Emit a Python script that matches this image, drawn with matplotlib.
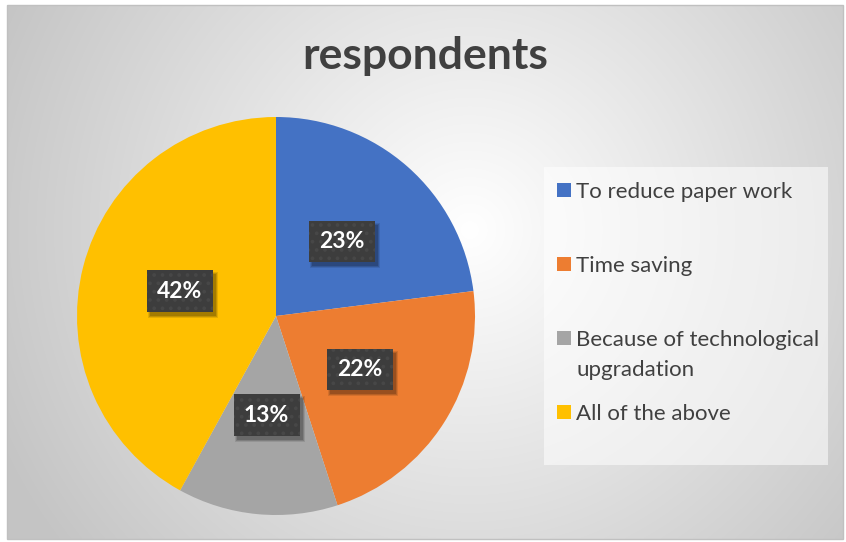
import numpy as np
import matplotlib
matplotlib.use("Agg")
import matplotlib.pyplot as plt
from matplotlib.patches import Rectangle

categories = ["To reduce paper work", "Time saving",
              "Because of technological\nupgradation", "All of the above"]
values = [23, 22, 13, 42]
colors = ["#4472C4", "#ED7D31", "#A5A5A5", "#FFC000"]
title = "respondents"

plt.rcParams['font.family'] = ['Lato', 'DejaVu Sans']
plt.rcParams['hatch.linewidth'] = 1.5

W, H = 846, 542
fig = plt.figure(figsize=(W / 100, H / 100), dpi=100)
fig.patch.set_facecolor('white')

# background with radial gradient
bg = fig.add_axes([0, 0, 1, 1])
bg.set_xlim(0, W)
bg.set_ylim(H, 0)
bg.axis('off')
x0, x1, y0, y1 = 7, 843, 5, 539
xx, yy = np.meshgrid(np.linspace(x0, x1, 420), np.linspace(y0, y1, 270))
cx, cy = 470, 230
d = np.clip(np.sqrt((xx - cx) ** 2 + (yy - cy) ** 2) / 520, 0, 1)
v = 1 - d * (1 - 0.77)
bg.imshow(np.dstack([v, v, v]), extent=(x0, x1, y1, y0), aspect='auto', zorder=0,
          interpolation='bilinear')
bg.add_patch(Rectangle((x0, y0), x1 - x0, y1 - y0, fill=False, ec='#c0c0c0', lw=1, zorder=1))

# title
bg.text(425.5, 69, title, ha='center', va='baseline', fontsize=32,
        fontweight='bold', color='#404040', zorder=3)

# legend box
bg.add_patch(Rectangle((544, 167), 284, 298, fc='white', alpha=0.55, ec='none', zorder=2))
ys = [190, 264, 338, 412]
for lab, col, yc in zip(categories, colors, ys):
    bg.add_patch(Rectangle((557, yc - 7), 14, 14, fc=col, ec='none', zorder=3))
    for j, line in enumerate(lab.split('\n')):
        bg.text(576, yc + 7.5 + 30 * j, line, ha='left', va='baseline', fontsize=16,
                color='#404040', zorder=3)

# pie
cxp, cyp, r = 276, 316, 199
ax = fig.add_axes([(cxp - r) / W, (H - cyp - r) / H, 2 * r / W, 2 * r / H])
wedges, texts, autotexts = ax.pie(values, colors=colors, startangle=90, counterclock=False,
                                  autopct='%1.0f%%', pctdistance=0.5, radius=1,
                                  wedgeprops=dict(linewidth=0))
ax.set_xlim(-1, 1)
ax.set_ylim(-1, 1)
ax.set_aspect('equal')
ax.axis('off')

for t in autotexts:
    t.set_color('white')
    t.set_fontsize(16.5)
    t.set_fontweight('bold')
    t.set_zorder(5)
    t.set_bbox(dict(boxstyle='square,pad=0.45', fc='#3d3d3d', ec='#474747', lw=0, hatch='..'))

# drop shadows behind label boxes
fig.canvas.draw()
for t in autotexts:
    bb = t.get_bbox_patch().get_window_extent()
    for k, a in [(0, 0.16), (1, 0.14), (2, 0.10)]:
        ax.add_patch(Rectangle((bb.x0 + 3 - k, bb.y0 - 4 - k), bb.width + 2 * k, bb.height + 2 * k,
                               transform=None, fc='black', alpha=a, lw=0, zorder=4))

fig.savefig('out.png', dpi=100, facecolor='white')
